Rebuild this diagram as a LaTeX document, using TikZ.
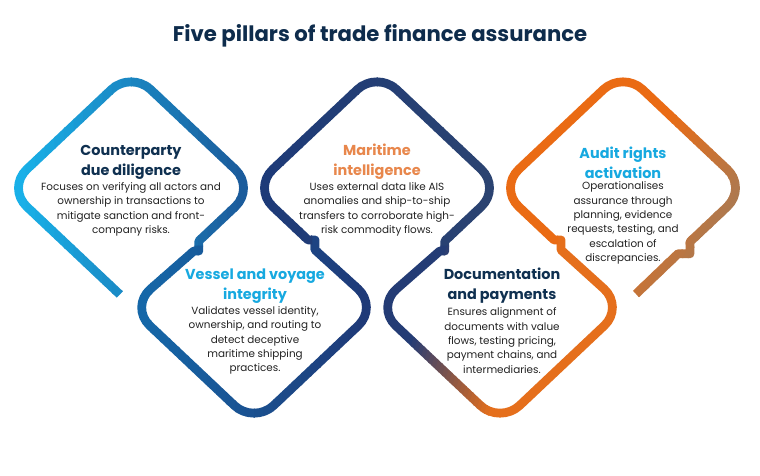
\documentclass[tikz,border=0pt]{standalone}
\usepackage{fontspec}
\setmainfont{Poppins}
\usetikzlibrary{calc}
\definecolor{titlec}{HTML}{0E2C4C}
\definecolor{headnavy}{HTML}{0F3050}
\definecolor{headcyan}{HTML}{17A9E0}
\definecolor{headorange}{HTML}{E8874C}
\definecolor{bodyc}{HTML}{222222}
\definecolor{dA}{HTML}{19B3EA}\definecolor{dAr}{HTML}{1B5A9A}
\definecolor{dB}{HTML}{1568A9}\definecolor{dBr}{HTML}{1F3977}
\definecolor{dC}{HTML}{1D3A78}\definecolor{dCr}{HTML}{2B4371}
\definecolor{dD}{HTML}{1E3A78}\definecolor{dDr}{HTML}{E9701A}
\definecolor{dE}{HTML}{EC6B12}\definecolor{dEr}{HTML}{A77A55}
\newcommand\rcorner[3]{-- ($(#2)!27pt!(#1)$) .. controls ($(#2)!27pt!(#1)!0.552!(#2)$) and ($(#2)!27pt!(#3)!0.552!(#2)$) .. ($(#2)!27pt!(#3)$)}
\newcommand\gradpiece[8]{%
 \foreach \k in {0,...,23}{%
  \pgfmathsetmacro\gua{(#5)+((#6)-(#5))*\k/24-600*(\k==0)}%
  \pgfmathsetmacro\gub{(#5)+((#6)-(#5))*(\k+1)/24+1+600*(\k==23)}%
  \pgfmathsetmacro\gxa{(#3)+\gua}%
  \pgfmathsetmacro\gxb{(#3)+\gub}%
  \pgfmathsetmacro\gya{(#4)-700}%
  \pgfmathsetmacro\gyb{(#4)+700}%
  \pgfmathtruncatemacro\gmix{100-100*(\k+0.5)/24}%
  \begin{scope}
   \clip[rotate around={#2:(#3,#4)}] (\gxa,\gya) rectangle (\gxb,\gyb);
   \draw[ribbon, draw=#7!\gmix!#8] #1;
  \end{scope}}}
\tikzset{
 ribbon/.style={line width=8.8pt, line cap=butt, line join=round},
 headtext/.style={align=center, inner sep=0pt, font=\fontsize{14.4}{20}\selectfont\bfseries},
 bodytext/.style={align=center, inner sep=0pt, text=bodyc, font=\fontsize{10.4}{14.4}\selectfont},
}
\begin{document}
\begin{tikzpicture}[x=1pt,y=-1pt]
\useasboundingbox (0,0) rectangle (760,475);
\fill[white] (0,0) rectangle (760,475);
% diamond vertices
\coordinate (L1) at (7,188);  \coordinate (T1) at (131,71);  \coordinate (R1) at (255,188); \coordinate (B1) at (131,305);
\coordinate (L2) at (130,307); \coordinate (B2) at (254,424); \coordinate (R2) at (378,307);
\coordinate (L3) at (253,188); \coordinate (T3) at (377,71);  \coordinate (R3) at (501,188); \coordinate (B3) at (377,305);
\coordinate (L4) at (376,307); \coordinate (B4) at (500,424); \coordinate (R4) at (624,307);
\coordinate (L5) at (499,188); \coordinate (T5) at (623,71);  \coordinate (R5) at (747,188); \coordinate (B5) at (623,305);
% start and notches
\coordinate (S1) at ($(L1)!0.91!(B1)$);
\coordinate (N1a) at ($(R1)!0.453!(B1)$);
\coordinate (N1b) at ($(N1a)+(0,10)$);
\coordinate (N1c) at ($(N1a)+(-5,10)$);
\coordinate (Q1a) at ($(N1a)+(0,5.5)$);
\coordinate (Q1b) at ($(N1a)+(0,4.5)$);
\coordinate (N2a) at ($(L3)!0.444!(B3)$);
\coordinate (N2b) at ($(N2a)+(7,0)$);
\coordinate (N2c) at ($(N2a)+(7,10)$);
\coordinate (Q2a) at ($(N2a)+(3,0)$);
\coordinate (Q2b) at ($(N2a)+(4,0)$);
\coordinate (N3a) at ($(R3)!0.453!(B3)$);
\coordinate (N3b) at ($(N3a)+(0,10)$);
\coordinate (N3c) at ($(N3a)+(-5,10)$);
\coordinate (Q3a) at ($(N3a)+(0,5.5)$);
\coordinate (Q3b) at ($(N3a)+(0,4.5)$);
\coordinate (N4a) at ($(L5)!0.444!(B5)$);
\coordinate (N4b) at ($(N4a)+(7,0)$);
\coordinate (N4c) at ($(N4a)+(7,10)$);
\coordinate (Q4a) at ($(N4a)+(3,0)$);
\coordinate (Q4b) at ($(N4a)+(4,0)$);
\coordinate (N5a) at ($(R5)!0.46!(B5)$);
\coordinate (N5b) at ($(N5a)+(0,12)$);
\coordinate (N5c) at ($(N5a)+(-12,12)$);
\coordinate (E5) at (636,294);
% pieces
\def\pieceA{(S1) \rcorner{S1}{L1}{T1} \rcorner{L1}{T1}{R1} \rcorner{T1}{R1}{B1} -- (N1a) -- (Q1a)}
\def\pieceB{(Q1b) -- (N1b) -- (N1c) \rcorner{N1c}{L2}{B2} \rcorner{L2}{B2}{R2} \rcorner{B2}{R2}{N2c} -- (N2c) -- (N2b) -- (Q2a)}
\def\pieceC{(Q2b) -- (N2a) \rcorner{N2a}{L3}{T3} \rcorner{L3}{T3}{R3} \rcorner{T3}{R3}{B3} -- (N3a) -- (Q3a)}
\def\pieceD{(Q3b) -- (N3b) -- (N3c) \rcorner{N3c}{L4}{B4} \rcorner{L4}{B4}{R4} \rcorner{B4}{R4}{N4c} -- (N4c) -- (N4b) -- (Q4a)}
\def\pieceE{(Q4b) -- (N4a) \rcorner{N4a}{L5}{T5} \rcorner{L5}{T5}{R5} \rcorner{T5}{R5}{B5} -- (N5a) -- (N5b) -- (N5c) -- (E5)}
\gradpiece{\pieceA}{0}{131}{188}{-115}{115}{dA}{dAr}
\gradpiece{\pieceB}{0}{254}{307}{-113}{113}{dB}{dBr}
\gradpiece{\pieceC}{0}{377}{188}{-113}{113}{dC}{dCr}
\gradpiece{\pieceD}{-20}{383}{307}{35}{140}{dD}{dDr}
\gradpiece{\pieceE}{-30}{623}{188}{0}{115}{dE}{dEr}
% texts
\node[font=\fontsize{21.2}{26}\selectfont\bfseries, text=titlec, inner sep=0pt] (title) at (380,36) {Five pillars of trade finance assurance};
\node[headtext, text=headnavy] (h1) at (131,162) {Counterparty\\due diligence};
\node[bodytext] (b1) at (131,209.5) {Focuses on verifying all actors and\\ownership in transactions to\\mitigate sanction and front-\\company risks.};
\node[headtext, text=headcyan] (h2) at (255,286) {Vessel and voyage\\integrity};
\node[bodytext] (b2) at (255,340.5) {Validates vessel identity,\\ownership, and routing to\\detect deceptive\\maritime shipping\\practices.};
\node[headtext, text=headorange] (h3) at (377,162) {Maritime\\intelligence};
\node[bodytext] (b3) at (377,209.5) {Uses external data like AIS\\anomalies and ship-to-ship\\transfers to corroborate high-\\risk commodity flows.};
\node[headtext, text=headnavy] (h4) at (502,286) {Documentation\\and payments};
\node[bodytext] (b4) at (502,340.5) {Ensures alignment of\\documents with value\\flows, testing pricing,\\payment chains, and\\intermediaries.};
\node[headtext, text=headcyan] (h5) at (623,162.5) {Audit rights\\activation};
\node[bodytext] (b5) at (623,223) {Operationalises\\assurance through\\planning, evidence\\requests, testing, and\\escalation of\\discrepancies.};
\end{tikzpicture}
\end{document}
